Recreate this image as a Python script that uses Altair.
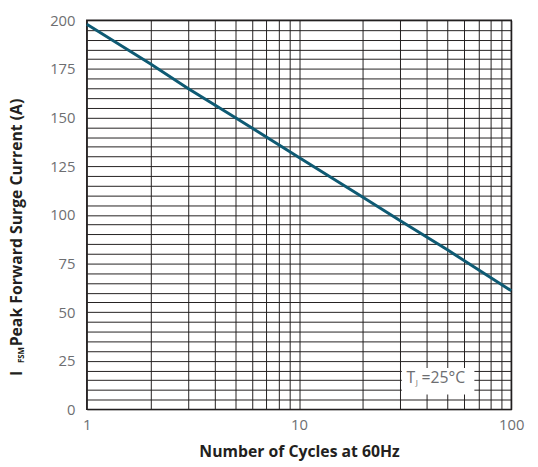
import altair as alt
import pandas as pd

cycles = [1, 2, 3, 5, 10, 20, 30, 50, 100]
current = [198, 177.5, 165, 150, 129.5, 109, 97, 82, 61]

x_grid = [1, 2, 3, 4, 5, 6, 7, 8, 9, 10, 20, 30, 40, 50, 60, 70, 80, 90, 100]
y_grid = list(range(0, 205, 5))

df = pd.DataFrame({"cycles": cycles, "current": current})

FONT = "Open Sans"
DARK = "#231f20"
GRAY = "#6d6e71"

xscale = alt.Scale(type="log", domain=[1, 100], nice=False)
yscale = alt.Scale(domain=[0, 200], nice=False)

xaxis = alt.Axis(values=x_grid, grid=True, gridColor=DARK, gridWidth=1, gridOpacity=1,
                 ticks=False, domain=False, labelOverlap=False,
                 labelExpr="(datum.value==1||datum.value==10||datum.value==100)?datum.label:''",
                 labelFont=FONT, labelFontSize=15, labelFontWeight="normal", labelColor=GRAY,
                 labelPadding=8, labelFlush=False,
                 title="Number of Cycles at 60Hz", titleFont=FONT, titleFontSize=16,
                 titleFontWeight="bold", titleColor=DARK, titlePadding=12)
yaxis = alt.Axis(values=y_grid, grid=True, gridColor=DARK, gridWidth=1, gridOpacity=1,
                 ticks=False, domain=False, labelOverlap=False,
                 labelExpr="datum.value % 25 == 0 ? datum.label : ''",
                 labelFont=FONT, labelFontSize=15, labelFontWeight="normal", labelColor=GRAY,
                 labelPadding=12, title=None)

line = alt.Chart(df).mark_line(color="#0e5a73", strokeWidth=3).encode(
    x=alt.X("cycles:Q", scale=xscale, axis=xaxis),
    y=alt.Y("current:Q", scale=yscale, axis=yaxis),
)

box_df = pd.DataFrame({"x1": [30.5], "x2": [67.0], "y1": [7.6], "y2": [21.3]})
box = alt.Chart(box_df).mark_rect(fill="white", color="white").encode(
    x=alt.X("x1:Q", scale=xscale, axis=xaxis), x2="x2:Q",
    y=alt.Y("y1:Q", scale=yscale, axis=yaxis), y2="y2:Q",
)

tj_df = pd.DataFrame({"x": [33.6, 47.8], "y": [16.0, 16.0], "t": ["T", "=25°C"]})
tj = alt.Chart(tj_df).mark_text(font=FONT, fontSize=16, fontWeight="normal", color=GRAY, baseline="middle").encode(
    x=alt.X("x:Q", scale=xscale, axis=xaxis), y=alt.Y("y:Q", scale=yscale, axis=yaxis), text="t:N"
)
sub_df = pd.DataFrame({"x": [35.9], "y": [13.4], "t": ["J"]})
tjsub = alt.Chart(sub_df).mark_text(font=FONT, fontSize=8, fontWeight="normal", color=GRAY, baseline="middle").encode(
    x=alt.X("x:Q", scale=xscale, axis=xaxis), y=alt.Y("y:Q", scale=yscale, axis=yaxis), text="t:N"
)

yt1 = alt.Chart(pd.DataFrame({"t": ["I"]})).mark_text(
    font=FONT, fontSize=16, fontWeight="bold", color=DARK, angle=270, align="left", baseline="middle"
).encode(x=alt.value(-71), y=alt.value(361), text="t:N")
yt2 = alt.Chart(pd.DataFrame({"t": ["FSM"]})).mark_text(
    font=FONT, fontSize=8, fontWeight="bold", color=DARK, angle=270, align="left", baseline="middle"
).encode(x=alt.value(-66), y=alt.value(348), text="t:N")
yt3 = alt.Chart(pd.DataFrame({"t": ["Peak Forward Surge Current (A)"]})).mark_text(
    font=FONT, fontSize=16, fontWeight="bold", color=DARK, angle=270, align="left", baseline="middle"
).encode(x=alt.value(-71), y=alt.value(331), text="t:N")

chart = alt.layer(line, box, tj, tjsub, yt1, yt2, yt3).properties(
    width=431, height=395,
    autosize=alt.AutoSizeParams(type="none"),
    padding={"left": 80, "top": 9, "right": 19, "bottom": 55},
    background="white",
).configure_view(stroke=DARK, strokeWidth=1.5)

chart.save("out.html", embed_options={"renderer": "svg", "actions": False})
